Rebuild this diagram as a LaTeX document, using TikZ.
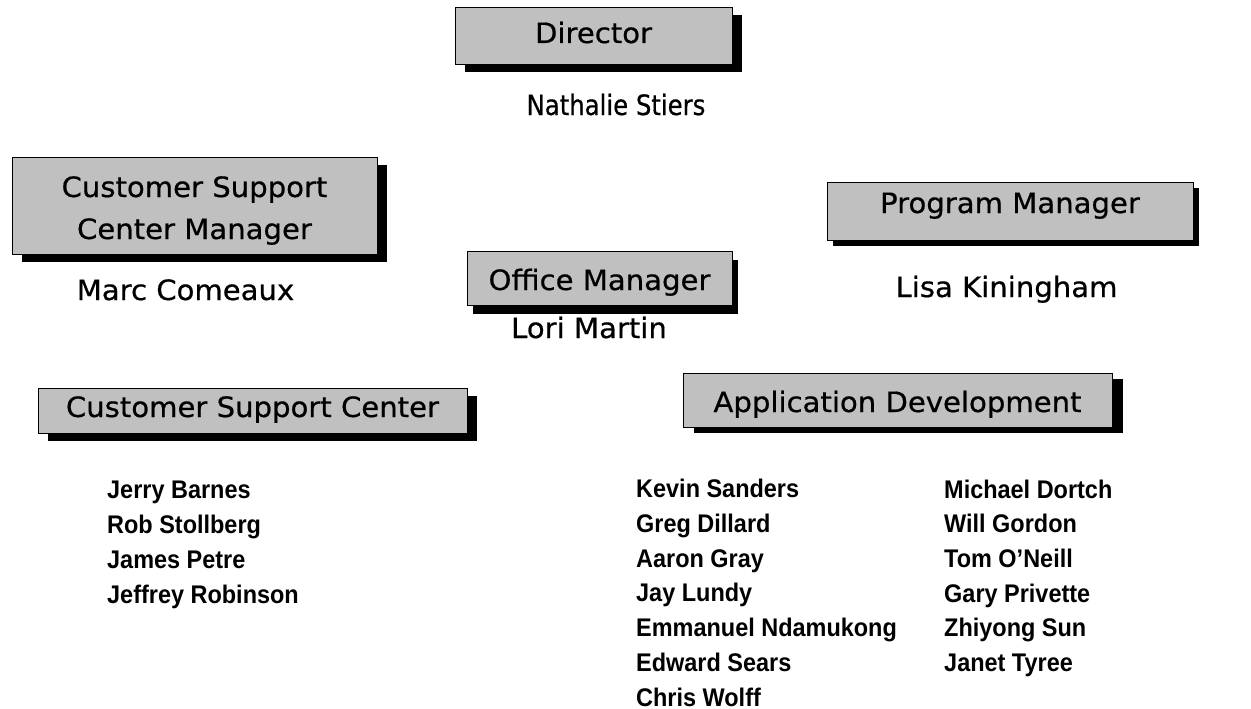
\documentclass[tikz,border=0pt]{standalone}
\usepackage{fontspec}
\usetikzlibrary{shadows}
\newfontfamily\boxfontfam[FakeStretch=1.04,FakeBold=0.6]{DejaVu Sans}
\newfontfamily\narrowfontfam[FakeStretch=0.87,FakeBold=0.6]{DejaVu Sans}
\newfontfamily\listfontfam[FakeStretch=0.92]{Liberation Sans}
\newcommand\boxfont{\boxfontfam\fontsize{28}{42}\selectfont}
\newcommand\narrowfont{\narrowfontfam\fontsize{28}{42}\selectfont}
\newcommand\listfont{\listfontfam\bfseries\fontsize{25.5}{34.7}\selectfont}
\definecolor{boxgray}{RGB}{192,192,192}
\tikzset{
  orgbox/.style={draw=black, line width=1pt, fill=boxgray, inner sep=0pt,
    font=\boxfont, align=center, text height=20pt},
  sh/.style 2 args={drop shadow={shadow xshift=#1pt, shadow yshift=-#2pt,
    opacity=1, fill=black}},
  person/.style={font=\boxfont, inner sep=0pt, anchor=base},
  staff/.style={font=\listfont, inner sep=0pt, anchor=base west, align=left}
}
\begin{document}
\begin{tikzpicture}[x=1pt,y=-1pt]
\useasboundingbox (0,0) rectangle (1251,709);
% boxes
\node[orgbox, sh={10}{7}, minimum width=277pt, minimum height=57pt, text depth=7pt]
  (dir) at (593.5,36.5) {Director};
\node[orgbox, sh={10}{8}, minimum width=365pt, minimum height=97pt, text height=67pt, text depth=0pt]
  (cscm) at (194.5,205.5) {Customer Support\\Center Manager};
\node[orgbox, sh={6}{6}, minimum width=366pt, minimum height=58pt, text depth=16pt]
  (pm) at (1010,211) {Program Manager};
\node[orgbox, sh={6}{9}, minimum width=265pt, minimum height=54pt, text height=24pt, text depth=0pt]
  (om) at (599.5,278) {Office Manager};
\node[orgbox, sh={10}{8}, minimum width=429pt, minimum height=45pt, text depth=7pt]
  (csc) at (252.5,410.5) {Customer Support Center};
\node[orgbox, sh={11}{6}, minimum width=429pt, minimum height=54pt, text height=24pt, text depth=0pt]
  (ad) at (897.5,400) {Application Development};
% people
\node[person, font=\narrowfont] (dirname) at (616,115) {Nathalie Stiers};
\node[person] (cscmname) at (185.5,300) {Marc Comeaux};
\node[person] (pmname) at (1006.5,297) {Lisa Kiningham};
\node[person] (omname) at (589,338) {Lori Martin};
% staff lists (anchor at baseline of last line)
\node[staff] (cscstaff) at (107,603) {Jerry Barnes\\Rob Stollberg\\James Petre\\Jeffrey Robinson};
\node[staff] (adstaff1) at (636,706) {Kevin Sanders\\Greg Dillard\\Aaron Gray\\Jay Lundy\\Emmanuel Ndamukong\\Edward Sears\\Chris Wolff};
\node[staff] (adstaff2) at (944,671.5) {Michael Dortch\\Will Gordon\\Tom O’Neill\\Gary Privette\\Zhiyong Sun\\Janet Tyree};
\end{tikzpicture}
\end{document}
